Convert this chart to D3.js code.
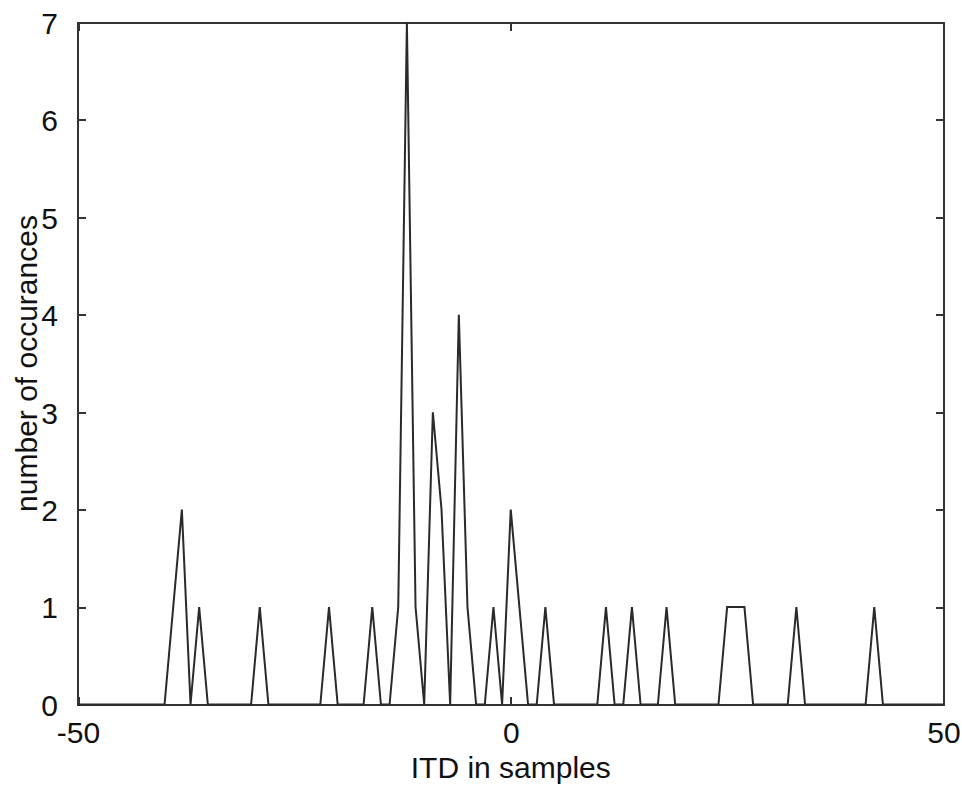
<!DOCTYPE html>
<meta charset="utf-8">
<script src="https://d3js.org/d3.v7.min.js"></script>
<style>
body { margin: 0; background: #fff; }
text { font-family: "Liberation Sans", Arial, sans-serif; fill: #111; }
.axis path, .axis line { stroke: #333; stroke-width: 2; shape-rendering: crispEdges; }
.box { fill: none; stroke: #333; stroke-width: 2; shape-rendering: crispEdges; }
.line { fill: none; stroke: #2a2a2a; stroke-width: 2; }
</style>
<div id="chart"></div>
<script>
// lag (samples) -50..50 and the number of occurances at each lag
var lags = d3.range(-50, 51);
var counts = [
  0, 0, 0, 0, 0, 0, 0, 0, 0, 0,      // -50..-41
  0, 1, 2, 0, 1, 0, 0, 0, 0, 0,      // -40..-31
  0, 1, 0, 0, 0, 0, 0, 0, 0, 1,      // -30..-21
  0, 0, 0, 0, 1, 0, 0, 1, 7, 1,      // -20..-11
  0, 3, 2, 0, 4, 1, 0, 0, 1, 0,      // -10..-1
  2, 1, 0, 0, 1, 0, 0, 0, 0, 0,      // 0..9
  0, 1, 0, 0, 1, 0, 0, 0, 1, 0,      // 10..19
  0, 0, 0, 0, 0, 1, 1, 1, 0, 0,      // 20..29
  0, 0, 0, 1, 0, 0, 0, 0, 0, 0,      // 30..39
  0, 0, 1, 0, 0, 0, 0, 0, 0, 0,      // 40..49
  0                                  // 50
];
var xTicks = [-50, 0, 50];
var yTicks = [0, 1, 2, 3, 4, 5, 6, 7];

var W = 962, H = 786;
var mLeft = 78, mRight = 943.5, mTop = 22.5, mBottom = 704.5;

var svg = d3.select("#chart").append("svg")
  .attr("width", W).attr("height", H);

var x = d3.scaleLinear().domain([-50, 50]).range([mLeft, mRight]);
var y = d3.scaleLinear().domain([0, 7]).range([mBottom, mTop]);
var fmt = function(d) { return String(d); };   // plain hyphen minus like the original

// ticks on all four sides, pointing inward
svg.append("g").attr("class", "axis")
  .attr("transform", "translate(0," + mBottom + ")")
  .call(d3.axisBottom(x).tickValues(xTicks).tickFormat(fmt).tickSize(-8).tickPadding(22).tickSizeOuter(0))
  .call(g => g.select(".domain").remove())
  .selectAll("text").style("font-size", "30px").attr("dy", "0.55em");

svg.append("g").attr("class", "axis")
  .attr("transform", "translate(0," + mTop + ")")
  .call(d3.axisTop(x).tickValues(xTicks).tickSize(-8).tickFormat("").tickSizeOuter(0))
  .call(g => g.select(".domain").remove());

svg.append("g").attr("class", "axis")
  .attr("transform", "translate(" + mLeft + ",0)")
  .call(d3.axisLeft(y).tickValues(yTicks).tickFormat(fmt).tickSize(-8).tickPadding(20).tickSizeOuter(0))
  .call(g => g.select(".domain").remove())
  .selectAll("text").style("font-size", "30px").attr("dy", "0.36em");

svg.append("g").attr("class", "axis")
  .attr("transform", "translate(" + mRight + ",0)")
  .call(d3.axisRight(y).tickValues(yTicks).tickSize(-8).tickFormat("").tickSizeOuter(0))
  .call(g => g.select(".domain").remove());

svg.append("rect").attr("class", "box")
  .attr("x", mLeft).attr("y", mTop)
  .attr("width", mRight - mLeft).attr("height", mBottom - mTop);

var line = d3.line()
  .x(function(d, i) { return x(lags[i]); })
  .y(function(d) { return y(d); });

svg.append("path").attr("class", "line")
  .attr("d", line(counts));

svg.append("text")
  .attr("x", (mLeft + mRight) / 2).attr("y", 778)
  .attr("text-anchor", "middle")
  .style("font-size", "30px")
  .text("ITD in samples");

svg.append("text")
  .attr("transform", "translate(37," + ((mTop + mBottom) / 2) + ") rotate(-90)")
  .attr("text-anchor", "middle")
  .style("font-size", "30px")
  .text("number of occurances");
</script>
